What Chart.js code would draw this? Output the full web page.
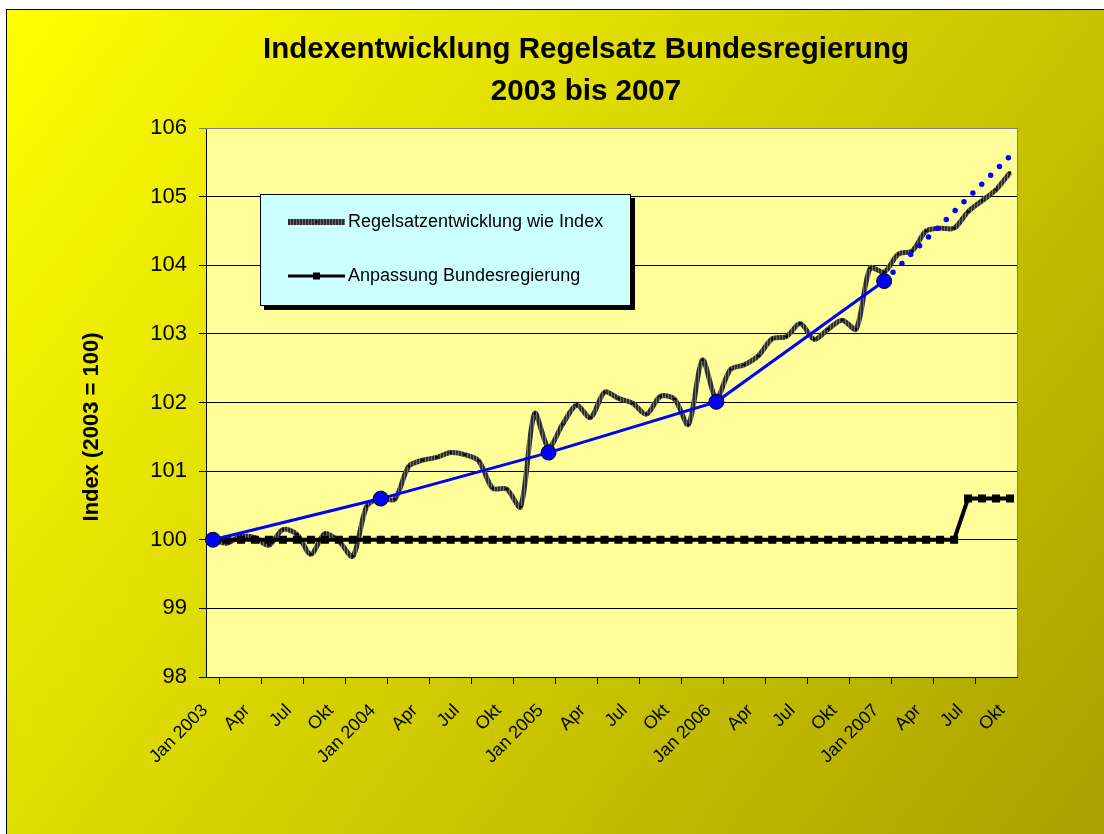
<!DOCTYPE html>
<html>
<head>
<meta charset="utf-8">
<script src="https://cdn.jsdelivr.net/npm/chart.js@4.4.1/dist/chart.umd.min.js"></script>
<style>
  html, body { margin: 0; padding: 0; background: #fff; }
  canvas { display: block; }
</style>
</head>
<body>
<canvas id="chart" width="1104" height="834"></canvas>
<script>
// Kategorien: Monate Jan 2003 bis Okt 2007
const monthNames = ['Jan', 'Feb', 'Mrz', 'Apr', 'Mai', 'Jun', 'Jul', 'Aug', 'Sep', 'Okt', 'Nov', 'Dez'];
const years = [2003, 2004, 2005, 2006, 2007];
const lastMonth = 'Okt 2007';

// Regelsatzentwicklung wie Index (monatlich)
const indexValues = [
    100.00, 99.95, 100.05, 100.03, 99.92, 100.15, 100.08, 99.79, 100.09, 99.98, 99.76, 100.49,
    100.60, 100.59, 101.07, 101.16, 101.20, 101.27, 101.24, 101.15, 100.75, 100.74, 100.48, 101.84,
    101.35, 101.68, 101.96, 101.78, 102.15, 102.06, 101.99, 101.83, 102.09, 102.05, 101.68, 102.62,
    102.06, 102.48, 102.55, 102.68, 102.93, 102.96, 103.15, 102.92, 103.07, 103.20, 103.07, 103.96,
    103.90, 104.16, 104.21, 104.50, 104.54, 104.54, 104.78, 104.94, 105.10, 105.35
];

// Anpassung Bundesregierung (monatlich)
const govValues = [
    100, 100, 100, 100, 100, 100, 100, 100, 100, 100, 100, 100,
    100, 100, 100, 100, 100, 100, 100, 100, 100, 100, 100, 100,
    100, 100, 100, 100, 100, 100, 100, 100, 100, 100, 100, 100,
    100, 100, 100, 100, 100, 100, 100, 100, 100, 100, 100, 100,
    100, 100, 100, 100, 100, 100, 100.6, 100.6, 100.6, 100.6
];

// Jahreswerte (blaue Linie) und Fortschreibung (gepunktet)
const trendLabels = ['Jan 2003', 'Jan 2004', 'Jan 2005', 'Jan 2006', 'Jan 2007'];
const trendValues = [100.00, 100.60, 101.27, 102.01, 103.77];
const projLabels = ['Jan 2007', 'Okt 2007'];
const projValues = [103.77, 105.59];

// y-Achse
const yMin = 98, yMax = 106;

const categories = [];
for (const y of years) {
    for (const m of monthNames) {
        categories.push(`${m} ${y}`);
        if (`${m} ${y}` === lastMonth) break;
    }
}

const FONT = '"Liberation Sans", Arial, sans-serif';
Chart.defaults.font.family = FONT;
Chart.defaults.color = '#000';

// schraffiertes Grau für die Indexlinie
function makeHatch() {
    const c = document.createElement('canvas');
    c.width = 3; c.height = 1;
    const g = c.getContext('2d');
    g.fillStyle = '#2e2e2e'; g.fillRect(0, 0, 2, 1);
    g.fillStyle = '#6e6e6e'; g.fillRect(2, 0, 1, 1);
    return document.getElementById('chart').getContext('2d').createPattern(c, 'repeat');
}
const hatch = makeHatch();

// Hintergrund, Titel, Legende
const decoPlugin = {
    id: 'deco',
    beforeDraw(chart) {
        const { ctx, chartArea: a } = chart;
        ctx.save();
        ctx.fillStyle = '#fff';
        ctx.fillRect(0, 0, chart.width, chart.height);
        const grad = ctx.createLinearGradient(6, 9, chart.width, chart.height);
        grad.addColorStop(0, '#FFFF00');
        grad.addColorStop(1, '#A9A100');
        ctx.fillStyle = grad;
        ctx.fillRect(6, 9, chart.width - 6, chart.height - 9);
        ctx.strokeStyle = '#000';
        ctx.lineWidth = 1;
        ctx.strokeRect(6.5, 9.5, chart.width + 10, chart.height + 10);
        ctx.fillStyle = '#FFFF99';
        ctx.fillRect(a.left, a.top, a.right - a.left, a.bottom - a.top);

        // Titel
        ctx.fillStyle = '#000';
        ctx.textAlign = 'center';
        ctx.textBaseline = 'alphabetic';
        ctx.font = `bold 29.5px ${FONT}`;
        ctx.fillText('Indexentwicklung Regelsatz Bundesregierung', 586, 58);
        ctx.fillText('2003 bis 2007', 586, 100);

        // y-Achsentitel
        ctx.translate(92, 427);
        ctx.rotate(-Math.PI / 2);
        ctx.font = `bold 22px ${FONT}`;
        ctx.textBaseline = 'middle';
        ctx.fillText('Index (2003 = 100)', 0, 0);
        ctx.restore();
    },
    beforeDatasetsDraw(chart) {
        const { ctx, chartArea: a } = chart;
        ctx.save();
        ctx.strokeStyle = '#808080';
        ctx.lineWidth = 1;
        ctx.beginPath();
        ctx.moveTo(a.left, a.top + 0.5);
        ctx.lineTo(a.right + 0.5, a.top + 0.5);
        ctx.lineTo(a.right + 0.5, a.bottom);
        ctx.stroke();
        ctx.restore();
    },
    afterDraw(chart) {
        const { ctx } = chart;
        ctx.save();
        // Legende mit Schatten
        ctx.fillStyle = '#000';
        ctx.fillRect(264, 198, 371, 112);
        ctx.fillStyle = '#CCFFFF';
        ctx.fillRect(260, 194, 371, 112);
        ctx.strokeStyle = '#000';
        ctx.lineWidth = 1;
        ctx.strokeRect(260.5, 194.5, 370, 111);

        ctx.lineWidth = 6;
        ctx.strokeStyle = hatch;
        ctx.beginPath();
        ctx.moveTo(288, 222);
        ctx.lineTo(345, 222);
        ctx.stroke();
        ctx.fillStyle = '#000';
        ctx.beginPath();
        ctx.arc(316.5, 222, 1.2, 0, Math.PI * 2);
        ctx.fill();

        ctx.lineWidth = 3;
        ctx.strokeStyle = '#000';
        ctx.beginPath();
        ctx.moveTo(288, 276);
        ctx.lineTo(345, 276);
        ctx.stroke();
        ctx.fillRect(313, 272.5, 7, 7);

        ctx.font = `18px ${FONT}`;
        ctx.textAlign = 'left';
        ctx.textBaseline = 'middle';
        ctx.fillText('Regelsatzentwicklung wie Index', 348, 222);
        ctx.fillText('Anpassung Bundesregierung', 348, 276);
        ctx.restore();
    }
};

new Chart(document.getElementById('chart'), {
    type: 'line',
    data: {
        labels: categories,
        datasets: [
            {
                label: 'Trend',
                data: trendLabels.map((l, i) => ({ x: l, y: trendValues[i] })),
                borderColor: '#0000FF',
                borderWidth: 3,
                pointRadius: 7.5,
                pointBackgroundColor: '#0000FF',
                pointBorderColor: '#000',
                pointBorderWidth: 1,
                tension: 0
            },
            {
                label: 'Fortschreibung',
                data: projLabels.map((l, i) => ({ x: l, y: projValues[i] })),
                borderColor: '#0000FF',
                borderWidth: 5.5,
                borderDash: [0, 12.5],
                borderCapStyle: 'round',
                pointRadius: 0,
                tension: 0
            },
            {
                label: 'Anpassung Bundesregierung',
                data: govValues,
                borderColor: '#000',
                borderWidth: 4,
                pointStyle: 'rect',
                pointRadius: 5.7,
                pointBackgroundColor: '#000',
                pointBorderWidth: 0,
                tension: 0
            },
            {
                label: 'Regelsatzentwicklung wie Index',
                data: indexValues,
                borderColor: hatch,
                borderWidth: 5,
                pointRadius: 1.3,
                pointBackgroundColor: '#000',
                pointBorderWidth: 0,
                tension: 0.3
            }
        ]
    },
    options: {
        responsive: false,
        animation: false,
        layout: { padding: { top: 128, right: 87, bottom: 57, left: 0 } },
        plugins: {
            legend: { display: false },
            title: { display: false },
            tooltip: { enabled: false }
        },
        scales: {
            x: {
                offset: true,
                afterFit: scale => { scale.height = 100; },
                grid: {
                    offset: true,
                    drawOnChartArea: false,
                    tickLength: 7,
                    color: c => (c.index % 3 === 1 ? '#000' : 'rgba(0,0,0,0)')
                },
                border: { color: '#000' },
                ticks: {
                    autoSkip: false,
                    minRotation: 45,
                    maxRotation: 45,
                    padding: 16,
                    labelOffset: -8,
                    font: { size: 18 },
                    color: '#000',
                    callback: function (val, idx) {
                        if (idx % 3 !== 0) return '';
                        const lbl = this.getLabelForValue(val);
                        return lbl.startsWith('Jan') ? lbl : lbl.split(' ')[0];
                    }
                }
            },
            y: {
                min: yMin,
                max: yMax,
                afterFit: scale => { scale.width = 206; },
                grid: {
                    tickLength: 7,
                    color: c => (c.tick && c.tick.value === yMax ? '#808080' : '#000')
                },
                border: { color: '#000' },
                ticks: {
                    stepSize: 1,
                    padding: 12,
                    font: { size: 22 },
                    color: '#000'
                }
            }
        }
    },
    plugins: [decoPlugin]
});
</script>
</body>
</html>
